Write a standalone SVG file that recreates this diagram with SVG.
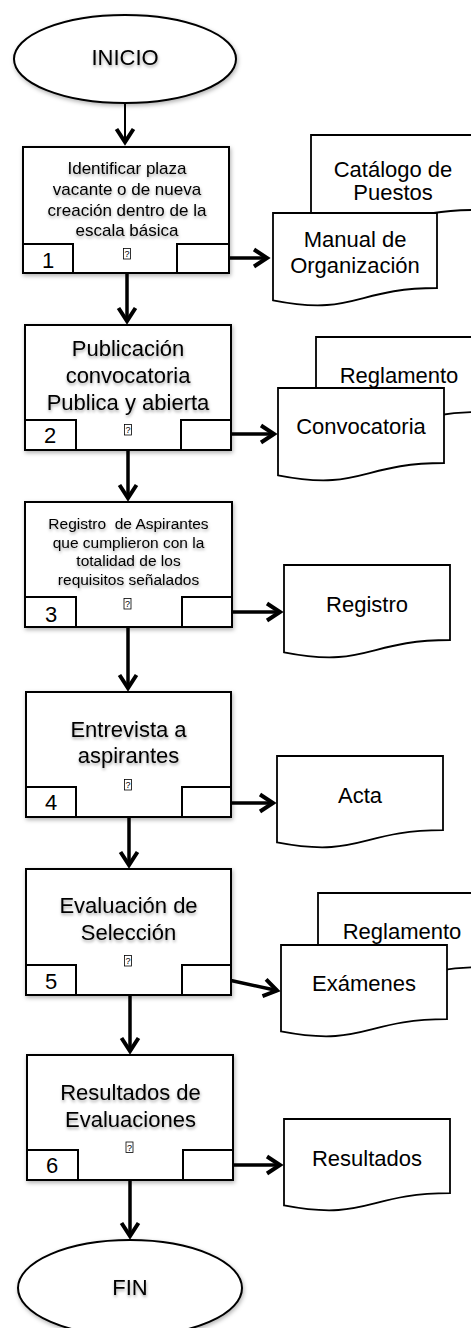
<svg xmlns="http://www.w3.org/2000/svg" width="471" height="1328" viewBox="0 0 471 1328">
<defs>
<filter id="sh" x="-20%" y="-20%" width="140%" height="140%"><feDropShadow dx="1" dy="2" stdDeviation="2" flood-color="#000" flood-opacity="0.3"/></filter>
<filter id="tsh" x="-20%" y="-40%" width="140%" height="180%"><feDropShadow dx="0.5" dy="2" stdDeviation="1.5" flood-color="#000" flood-opacity="0.35"/></filter>
<marker id="arr" markerUnits="userSpaceOnUse" markerWidth="30" markerHeight="30" viewBox="-20 -15 30 30" refX="0" refY="0" orient="auto" overflow="visible"><path d="M-13,-8.5 L0,0 L-13,8.5" fill="none" stroke="#000" stroke-width="4"/></marker>
</defs>
<style>
.s{fill:#fff;stroke:#000;stroke-width:2}
.d{fill:#fff;stroke:#000;stroke-width:1.8}
.t{font-family:"Liberation Sans",Arial,sans-serif;font-size:22px;fill:#000;text-anchor:middle}
.ts{filter:url(#tsh)}
.n{font-family:"Liberation Sans",Arial,sans-serif;font-size:22px;fill:#000;text-anchor:middle}
.q{font-family:"Liberation Sans",Arial,sans-serif;font-size:9px;fill:#000;text-anchor:middle}
.qb{fill:#fff;stroke:#000;stroke-width:0.8}
.c{fill:none;stroke:#000;stroke-width:3.5}
</style>
<rect width="471" height="1328" fill="#fff"/>

<g id="inicio">
<ellipse class="s" cx="125" cy="59" rx="111" ry="44" filter="url(#sh)"/>
<text class="t ts" x="125" y="65">INICIO</text>
</g>

<g id="paso1">
<rect class="s" x="23" y="147" width="206" height="126" filter="url(#sh)"/>
<rect class="s" x="23" y="244" width="50" height="29"/>
<rect class="s" x="177" y="244" width="52" height="29"/>
<g class="ts" style="font-family:'Liberation Sans',Arial,sans-serif;font-size:17px;text-anchor:middle">
<text x="127" y="174">Identificar plaza</text>
<text x="127" y="195">vacante o de nueva</text>
<text x="127" y="216">creación dentro de la</text>
<text x="127" y="236">escala básica</text>
</g>
<rect class="qb" x="123.5" y="248.5" width="7" height="10.5"/>
<text class="q" x="127" y="257">?</text>
<text class="n" x="48" y="268">1</text>
</g>

<g id="doc1">
<path class="d" d="M311,135 H475 V210 C393,210 393,238.6 311,222.3 Z"/>
<text class="t" x="393" y="177">Catálogo de</text>
<text class="t" x="393" y="200">Puestos</text>
<path class="d" d="M273,213 H437 V288 C355,288 355,316.6 273,300.3 Z"/>
<text class="t" x="355" y="247">Manual de</text>
<text class="t" x="355" y="273">Organización</text>
</g>

<g id="paso2">
<rect class="s" x="25" y="325" width="206" height="125" filter="url(#sh)"/>
<rect class="s" x="25" y="420" width="51" height="30"/>
<rect class="s" x="181" y="420" width="50" height="30"/>
<text class="t ts" x="128" y="356">Publicación</text>
<text class="t ts" x="128" y="383">convocatoria</text>
<text class="t ts" x="128" y="410">Publica y abierta</text>
<rect class="qb" x="124.5" y="424.5" width="7" height="10.5"/>
<text class="q" x="128" y="433">?</text>
<text class="n" x="50" y="443">2</text>
</g>

<g id="doc2">
<path class="d" d="M316,337 H482 V412 C399,412 399,440.6 316,424.3 Z"/>
<text class="t" x="399" y="383">Reglamento</text>
<path class="d" d="M278,388 H444 V463 C361,463 361,491.6 278,475.3 Z"/>
<text class="t" x="361" y="434">Convocatoria</text>
</g>

<g id="paso3">
<rect class="s" x="25" y="502" width="207" height="125" filter="url(#sh)"/>
<rect class="s" x="25" y="597" width="51" height="30"/>
<rect class="s" x="182" y="597" width="50" height="30"/>
<g class="ts" style="font-family:'Liberation Sans',Arial,sans-serif;font-size:15.5px;text-anchor:middle">
<text x="128.5" y="529" xml:space="preserve">Registro  de Aspirantes</text>
<text x="128.5" y="547.5">que cumplieron con la</text>
<text x="128.5" y="566">totalidad de los</text>
<text x="128.5" y="584.5">requisitos señalados</text>
</g>
<rect class="qb" x="124" y="598.5" width="7" height="10.5"/>
<text class="q" x="127.5" y="607">?</text>
<text class="n" x="51" y="622">3</text>
</g>

<g id="doc3">
<path class="d" d="M284,565 H450 V640 C367,640 367,668.6 284,652.3 Z"/>
<text class="t" x="367" y="612">Registro</text>
</g>

<g id="paso4">
<rect class="s" x="26" y="692" width="205" height="125" filter="url(#sh)"/>
<rect class="s" x="26" y="787" width="50" height="30"/>
<rect class="s" x="182" y="787" width="49" height="30"/>
<text class="t ts" x="128.5" y="737">Entrevista a</text>
<text class="t ts" x="128.5" y="763">aspirantes</text>
<rect class="qb" x="124.5" y="779.5" width="7" height="10.5"/>
<text class="q" x="128" y="788">?</text>
<text class="n" x="51" y="810">4</text>
</g>

<g id="doc4">
<path class="d" d="M277,756 H443 V830.2 C360,830.2 360,858.4 277,842.4 Z"/>
<text class="t" x="360" y="803">Acta</text>
</g>

<g id="paso5">
<rect class="s" x="26" y="869" width="205" height="126" filter="url(#sh)"/>
<rect class="s" x="26" y="965" width="50" height="30"/>
<rect class="s" x="182" y="965" width="49" height="30"/>
<text class="t ts" x="128.5" y="913">Evaluación de</text>
<text class="t ts" x="128.5" y="940">Selección</text>
<rect class="qb" x="124.5" y="955.5" width="7" height="10.5"/>
<text class="q" x="128" y="964">?</text>
<text class="n" x="51" y="989">5</text>
</g>

<g id="doc5">
<path class="d" d="M318,893 H484 V967.2 C401,967.2 401,995.4 318,979.4 Z"/>
<text class="t" x="402" y="939">Reglamento</text>
<path class="d" d="M281,945 H447 V1019.2 C364,1019.2 364,1047.4 281,1031.4 Z"/>
<text class="t" x="364" y="991">Exámenes</text>
</g>

<g id="paso6">
<rect class="s" x="27" y="1055" width="206" height="125" filter="url(#sh)"/>
<rect class="s" x="27" y="1150" width="51" height="30"/>
<rect class="s" x="183" y="1150" width="50" height="30"/>
<text class="t ts" x="130.5" y="1100">Resultados de</text>
<text class="t ts" x="130.5" y="1127">Evaluaciones</text>
<rect class="qb" x="126" y="1142" width="7" height="10.5"/>
<text class="q" x="129.5" y="1150.5">?</text>
<text class="n" x="52" y="1173">6</text>
</g>

<g id="doc6">
<path class="d" d="M284,1119 H450 V1193.2 C367,1193.2 367,1221.4 284,1205.4 Z"/>
<text class="t" x="367" y="1166">Resultados</text>
</g>

<g id="fin">
<ellipse class="s" cx="130" cy="1288" rx="112" ry="48" filter="url(#sh)"/>
<text class="t ts" x="130" y="1295">FIN</text>
</g>

<g id="connectors">
<line class="c" style="stroke-width:2" x1="125" y1="103" x2="125" y2="142" marker-end="url(#arr)"/>
<line class="c" x1="127" y1="273" x2="127" y2="321" marker-end="url(#arr)"/>
<line class="c" x1="128" y1="450" x2="128" y2="498" marker-end="url(#arr)"/>
<line class="c" x1="128" y1="627" x2="128" y2="688" marker-end="url(#arr)"/>
<line class="c" x1="129" y1="817" x2="129" y2="865" marker-end="url(#arr)"/>
<line class="c" x1="130" y1="995" x2="130" y2="1051" marker-end="url(#arr)"/>
<line class="c" x1="130" y1="1180" x2="130" y2="1236" marker-end="url(#arr)"/>
<line class="c" x1="229" y1="258" x2="267" y2="258" marker-end="url(#arr)"/>
<line class="c" x1="231" y1="434" x2="274" y2="434" marker-end="url(#arr)"/>
<line class="c" x1="232" y1="612" x2="280" y2="612" marker-end="url(#arr)"/>
<line class="c" x1="231" y1="803" x2="273" y2="803" marker-end="url(#arr)"/>
<line class="c" x1="231" y1="980.5" x2="277" y2="990.5" marker-end="url(#arr)"/>
<line class="c" x1="233" y1="1165" x2="280" y2="1165" marker-end="url(#arr)"/>
</g>
</svg>
